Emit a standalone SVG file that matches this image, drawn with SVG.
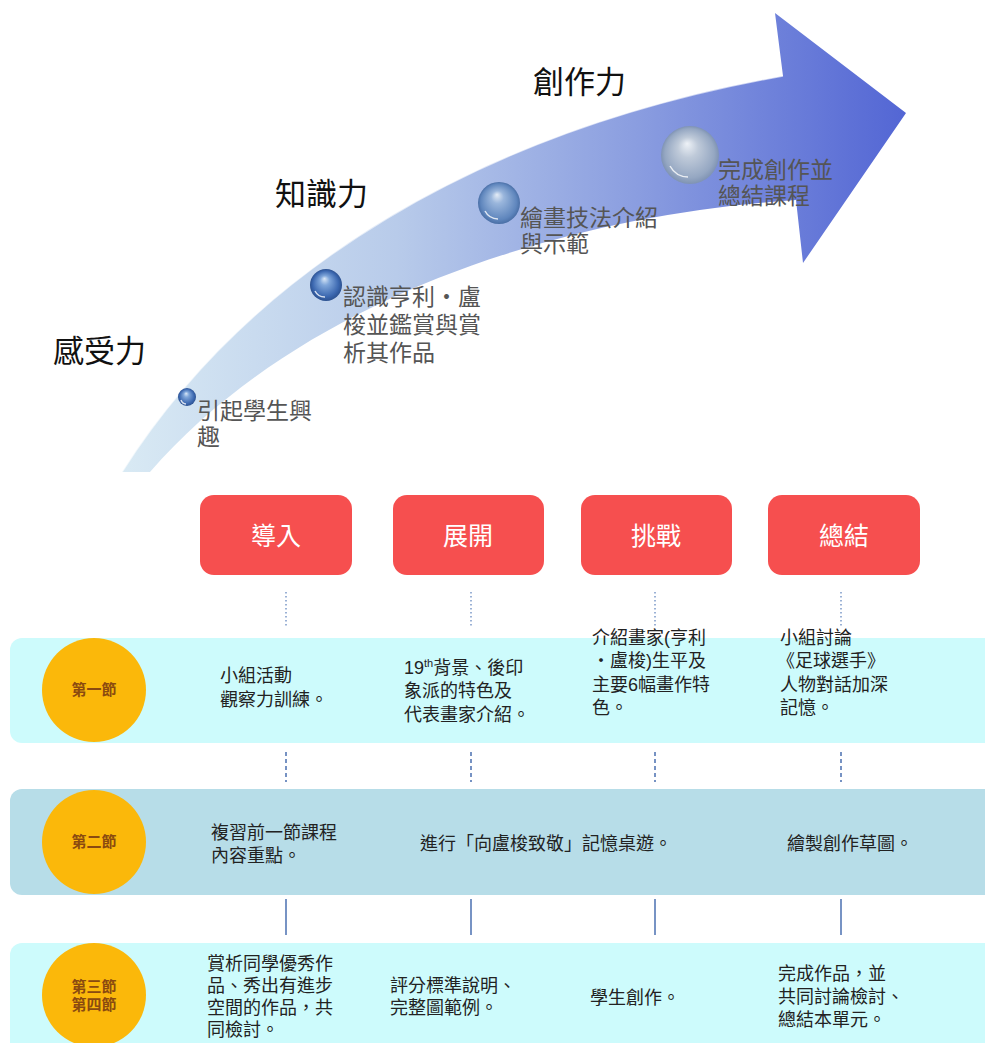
<svg xmlns="http://www.w3.org/2000/svg" width="985" height="1043" viewBox="0 0 985 1043">
<defs>
<linearGradient id="arrowGrad" gradientUnits="userSpaceOnUse" x1="120" y1="0" x2="910" y2="0">
<stop offset="0" stop-color="#d9eaf4"/>
<stop offset="0.35" stop-color="#b8cbea"/>
<stop offset="0.65" stop-color="#8b9ee0"/>
<stop offset="1" stop-color="#5265d4"/>
</linearGradient>
<radialGradient id="sphBlue" cx="0.5" cy="0.5" r="0.5" fx="0.45" fy="0.3">
<stop offset="0" stop-color="#dbe8f7"/>
<stop offset="0.3" stop-color="#7fa6da"/>
<stop offset="0.8" stop-color="#3c68b0"/>
<stop offset="1" stop-color="#2c5190"/>
</radialGradient>
<radialGradient id="sphMid" cx="0.5" cy="0.5" r="0.5" fx="0.45" fy="0.3">
<stop offset="0" stop-color="#e4ecf6"/>
<stop offset="0.3" stop-color="#9ab6dc"/>
<stop offset="0.85" stop-color="#5f86bd"/>
<stop offset="1" stop-color="#4a6fa6"/>
</radialGradient>
<radialGradient id="sphGrey" cx="0.5" cy="0.5" r="0.5" fx="0.45" fy="0.3">
<stop offset="0" stop-color="#eef2f7"/>
<stop offset="0.35" stop-color="#bfcad9"/>
<stop offset="0.85" stop-color="#95a7c2"/>
<stop offset="1" stop-color="#7f93b3"/>
</radialGradient>
<style>
.big{font-family:"Liberation Sans","Noto Sans CJK TC",sans-serif;font-size:31px;fill:#111;}
.step{font-family:"Liberation Sans","Noto Sans CJK TC",sans-serif;font-size:23px;fill:#555;}
.box{fill:#f64f4f;}
.boxt{font-family:"Liberation Sans","Noto Sans CJK TC",sans-serif;font-size:25px;fill:#fff;text-anchor:middle;}
.rowA{fill:#cdfbfc;}
.rowB{fill:#b7dde8;}
.circ{fill:#fbb80a;}
.ct{font-family:"Liberation Sans","Noto Sans CJK TC",sans-serif;font-size:15px;font-weight:bold;fill:#8a4a10;text-anchor:middle;}
.t{font-family:"Liberation Sans","Noto Sans CJK TC",sans-serif;font-size:18px;fill:#222;}
.dot{stroke:#7a98c8;stroke-width:1.5;stroke-dasharray:1.5 2.5;fill:none;}
.dash{stroke:#4a6fb0;stroke-width:1.5;stroke-dasharray:4 3;fill:none;}
.solid{stroke:#4a6fb0;stroke-width:1.5;fill:none;}
.hl{fill:none;stroke:#fff;stroke-width:1.5;stroke-opacity:0.8;}
</style>
</defs>

<g id="arrow">
<path d="M122,472 C250,270 480,130 783,76 L775,13 L906,113 L803,263 L796,200 C560,215 300,300 150,472 Z" fill="url(#arrowGrad)"/>
<path d="M122,472 C250,270 480,130 783,76" fill="none" stroke="#ffffff" stroke-opacity="0.6" stroke-width="1.5"/>
</g>

<g id="labels">
<text class="big" x="53" y="362">感受力</text>
<text class="big" x="275" y="205">知識力</text>
<text class="big" x="533" y="93">創作力</text>
</g>

<g id="step1">
<circle cx="187" cy="397" r="9" fill="url(#sphBlue)"/>
<path class="hl" d="M181,400 A6,6 0 0 0 186,404"/>
<text class="step" x="197" y="419">引起學生興</text>
<text class="step" x="197" y="445">趣</text>
</g>
<g id="step2">
<circle cx="326" cy="285" r="16" fill="url(#sphBlue)"/>
<path class="hl" d="M315,291 A11,11 0 0 0 325,297"/>
<text class="step" x="343" y="305">認識亨利・盧</text>
<text class="step" x="343" y="333">梭並鑑賞與賞</text>
<text class="step" x="343" y="361">析其作品</text>
</g>
<g id="step3">
<circle cx="499" cy="203" r="21" fill="url(#sphMid)"/>
<path class="hl" d="M485,211 A15,15 0 0 0 498,219"/>
<text class="step" x="520" y="226">繪畫技法介紹</text>
<text class="step" x="520" y="252">與示範</text>
</g>
<g id="step4">
<circle cx="690" cy="155" r="29" fill="url(#sphGrey)"/>
<path class="hl" d="M670,166 A21,21 0 0 0 688,177"/>
<text class="step" x="718" y="178">完成創作並</text>
<text class="step" x="718" y="204">總結課程</text>
</g>

<g id="phase-intro">
<rect class="box" x="200" y="495" width="152" height="80" rx="14"/>
<text class="boxt" x="276" y="545">導入</text>
</g>
<g id="phase-develop">
<rect class="box" x="393" y="495" width="151" height="80" rx="14"/>
<text class="boxt" x="468" y="545">展開</text>
</g>
<g id="phase-challenge">
<rect class="box" x="581" y="495" width="151" height="80" rx="14"/>
<text class="boxt" x="656" y="545">挑戰</text>
</g>
<g id="phase-summary">
<rect class="box" x="768" y="495" width="152" height="80" rx="14"/>
<text class="boxt" x="844" y="545">總結</text>
</g>

<g id="connectors">
<line class="dot" x1="286" y1="592" x2="286" y2="626"/>
<line class="dot" x1="471" y1="592" x2="471" y2="626"/>
<line class="dot" x1="655" y1="592" x2="655" y2="626"/>
<line class="dot" x1="841" y1="592" x2="841" y2="626"/>
<line class="dash" x1="286" y1="752" x2="286" y2="782"/>
<line class="dash" x1="471" y1="752" x2="471" y2="782"/>
<line class="dash" x1="655" y1="752" x2="655" y2="782"/>
<line class="dash" x1="841" y1="752" x2="841" y2="782"/>
<line class="solid" x1="286" y1="899" x2="286" y2="935"/>
<line class="solid" x1="471" y1="899" x2="471" y2="935"/>
<line class="solid" x1="655" y1="899" x2="655" y2="935"/>
<line class="solid" x1="841" y1="899" x2="841" y2="935"/>
</g>

<g id="row1">
<rect class="rowA" x="10" y="638" width="990" height="105" rx="12"/>
<circle class="circ" cx="94" cy="690" r="52"/>
<text class="ct" x="94" y="695">第一節</text>
<text class="t" x="220" y="682">小組活動</text>
<text class="t" x="220" y="706">觀察力訓練。</text>
<text class="t" x="404" y="674">19<tspan font-size="11" dy="-7">th</tspan><tspan dy="7">背景、後印</tspan></text>
<text class="t" x="404" y="697">象派的特色及</text>
<text class="t" x="404" y="721">代表畫家介紹。</text>
<text class="t" x="592" y="644">介紹畫家(亨利</text>
<text class="t" x="592" y="667">・盧梭)生平及</text>
<text class="t" x="592" y="691">主要6幅畫作特</text>
<text class="t" x="592" y="714">色。</text>
<text class="t" x="780" y="644">小組討論</text>
<text class="t" x="777" y="667">《足球選手》</text>
<text class="t" x="780" y="691">人物對話加深</text>
<text class="t" x="780" y="714">記憶。</text>
</g>

<g id="row2">
<rect class="rowB" x="10" y="789" width="990" height="106" rx="12"/>
<circle class="circ" cx="94" cy="842" r="52"/>
<text class="ct" x="94" y="847">第二節</text>
<text class="t" x="211" y="839">複習前一節課程</text>
<text class="t" x="211" y="862">內容重點。</text>
<text class="t" x="420" y="850">進行「向盧梭致敬」記憶桌遊。</text>
<text class="t" x="787" y="850">繪製創作草圖。</text>
</g>

<g id="row3">
<rect class="rowA" x="10" y="943" width="990" height="120" rx="12"/>
<circle class="circ" cx="94" cy="995" r="52"/>
<text class="ct" x="94" y="992">第三節</text>
<text class="ct" x="94" y="1010">第四節</text>
<text class="t" x="207" y="970">賞析同學優秀作</text>
<text class="t" x="207" y="992">品、秀出有進步</text>
<text class="t" x="207" y="1014">空間的作品，共</text>
<text class="t" x="207" y="1036">同檢討。</text>
<text class="t" x="390" y="992">評分標準說明、</text>
<text class="t" x="390" y="1014">完整圖範例。</text>
<text class="t" x="590" y="1004">學生創作。</text>
<text class="t" x="778" y="980">完成作品，並</text>
<text class="t" x="778" y="1003">共同討論檢討、</text>
<text class="t" x="778" y="1026">總結本單元。</text>
</g>
</svg>
